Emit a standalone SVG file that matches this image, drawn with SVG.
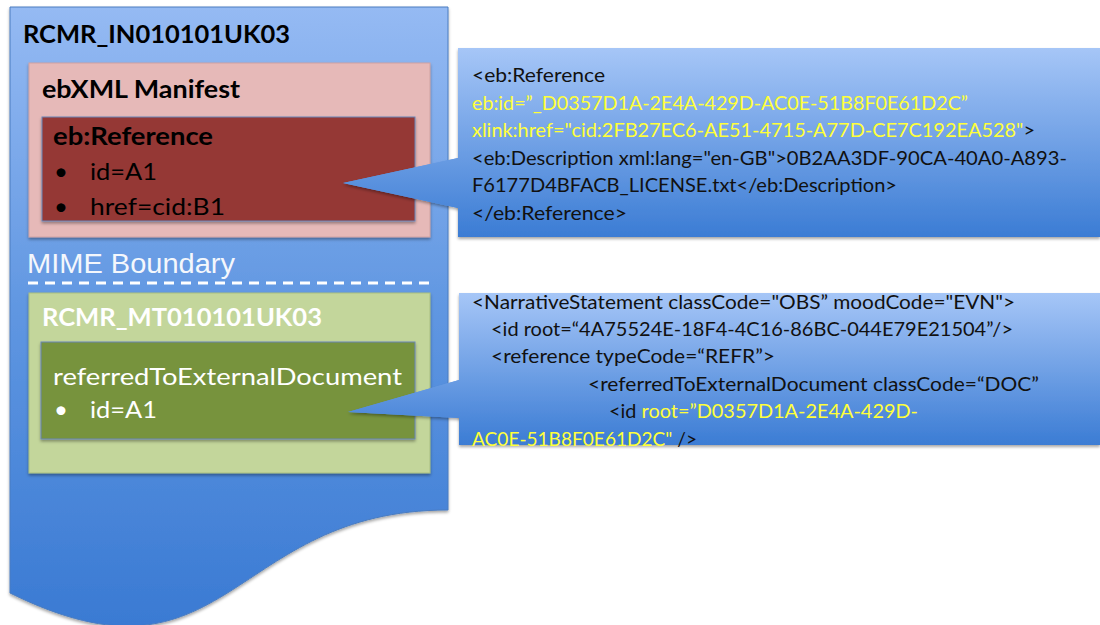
<svg xmlns="http://www.w3.org/2000/svg" width="1100" height="625" viewBox="0 0 1100 625">
  <style>
    .lato { font-family: "Lato", "Open Sans", sans-serif; }
    .b { font-weight: bold; }
    .big { font-size: 24px; }
    .code { font-family: "Lato", "Open Sans", sans-serif; font-size: 19px; fill: #111111; }
    .y { fill: #ffff3a; }
    .blk { fill: #000000; }
    .wht { fill: #ffffff; }
  </style>
  <defs>
    <linearGradient id="gDoc" gradientUnits="userSpaceOnUse" x1="0" y1="7" x2="0" y2="625">
      <stop offset="0" stop-color="#95baf3"/>
      <stop offset="0.5" stop-color="#5f96e1"/>
      <stop offset="1" stop-color="#3a7ad3"/>
    </linearGradient>
    <linearGradient id="gC1" gradientUnits="userSpaceOnUse" x1="0" y1="48" x2="0" y2="237">
      <stop offset="0" stop-color="#a6c6f7"/>
      <stop offset="1" stop-color="#3b7cd4"/>
    </linearGradient>
    <linearGradient id="gC2" gradientUnits="userSpaceOnUse" x1="0" y1="293" x2="0" y2="445">
      <stop offset="0" stop-color="#a6c6f7"/>
      <stop offset="1" stop-color="#3b7cd4"/>
    </linearGradient>
    <filter id="sh" x="-10%" y="-10%" width="120%" height="130%">
      <feDropShadow dx="0" dy="2" stdDeviation="1.8" flood-color="#000" flood-opacity="0.35"/>
    </filter>
  </defs>

  <g id="doc-RCMR_IN010101UK03">
    <path d="M10,7 H448 V510 C229,510 229,701 10,593 Z" fill="url(#gDoc)" stroke="#4a7cc0" stroke-width="1" filter="url(#sh)"/>
    <text class="lato b big blk" x="23" y="43" textLength="267" lengthAdjust="spacingAndGlyphs">RCMR_IN010101UK03</text>
  </g>

  <g id="ebxml-manifest">
    <rect x="29" y="63" width="401" height="174" fill="#e6b9b8" stroke="#d0a2a2" stroke-width="1" filter="url(#sh)"/>
    <text class="lato b big blk" x="42" y="98" textLength="198" lengthAdjust="spacingAndGlyphs">ebXML Manifest</text>
  </g>

  <g id="eb-reference">
    <rect x="42" y="117" width="373" height="104" fill="#953735" stroke="#6a86b8" stroke-width="1" filter="url(#sh)"/>
    <text class="lato b big blk" x="53" y="145" textLength="160" lengthAdjust="spacingAndGlyphs">eb:Reference</text>
    <text class="lato big blk" x="54" y="180">•</text>
    <text class="lato big blk" x="90" y="180" textLength="67" lengthAdjust="spacingAndGlyphs">id=A1</text>
    <text class="lato big blk" x="54" y="215">•</text>
    <text class="lato big blk" x="90" y="215" textLength="135" lengthAdjust="spacingAndGlyphs">href=cid:B1</text>
  </g>

  <g id="mime-boundary">
    <text x="27" y="273" font-family="Liberation Sans, Arial, sans-serif" font-size="28" fill="#f4f7fc" textLength="208" lengthAdjust="spacingAndGlyphs">MIME Boundary</text>
    <line x1="28" y1="283" x2="430" y2="283" stroke="#ffffff" stroke-width="3" stroke-dasharray="10,7"/>
  </g>

  <g id="rcmr-mt010101uk03">
    <rect x="29" y="293" width="401" height="180" fill="#c3d69b" stroke="#a9bf80" stroke-width="1" filter="url(#sh)"/>
    <text class="lato b big wht" x="42" y="326" textLength="280" lengthAdjust="spacingAndGlyphs">RCMR_MT010101UK03</text>
  </g>

  <g id="referred-to-external-document">
    <rect x="41" y="342" width="374" height="97" fill="#77933c" stroke="#6a86b8" stroke-width="1" filter="url(#sh)"/>
    <text class="lato big wht" x="53" y="385" textLength="349" lengthAdjust="spacingAndGlyphs">referredToExternalDocument</text>
    <text class="lato big wht" x="54" y="418">•</text>
    <text class="lato big wht" x="90" y="418" textLength="67" lengthAdjust="spacingAndGlyphs">id=A1</text>
  </g>

  <g id="connectors">
    <path d="M470,158 L458,158 L343,183 L458,208 L470,208 Z" fill="url(#gC1)" filter="url(#sh)"/>
    <path d="M470,380 L459,380 L348,412 L459,418 L470,418 Z" fill="url(#gC2)" filter="url(#sh)"/>
  </g>

  <g id="callout-eb-reference">
    <rect x="458" y="48" width="642" height="189" fill="url(#gC1)" filter="url(#sh)"/>
    <path d="M470,158 L458,158 L343,183 L458,208 L470,208 Z" fill="url(#gC1)"/>
    <text class="code" x="472" y="82" textLength="133" lengthAdjust="spacingAndGlyphs">&lt;eb:Reference</text>
    <text class="code y" x="472" y="110" textLength="496" lengthAdjust="spacingAndGlyphs">eb:id=”_D0357D1A-2E4A-429D-AC0E-51B8F0E61D2C”</text>
    <text class="code" x="472" y="137" textLength="563" lengthAdjust="spacingAndGlyphs"><tspan class="y">xlink:href="cid:2FB27EC6-AE51-4715-A77D-CE7C192EA528"</tspan>&gt;</text>
    <text class="code" x="472" y="165" textLength="595" lengthAdjust="spacingAndGlyphs">&lt;eb:Description xml:lang="en-GB"&gt;0B2AA3DF-90CA-40A0-A893-</text>
    <text class="code" x="472" y="192" textLength="425" lengthAdjust="spacingAndGlyphs">F6177D4BFACB_LICENSE.txt&lt;/eb:Description&gt;</text>
    <text class="code" x="472" y="220" textLength="155" lengthAdjust="spacingAndGlyphs">&lt;/eb:Reference&gt;</text>
  </g>

  <g id="callout-narrative-statement">
    <rect x="459" y="293" width="641" height="152" fill="url(#gC2)" filter="url(#sh)"/>
    <path d="M470,380 L459,380 L348,412 L459,418 L470,418 Z" fill="url(#gC2)"/>
    <text class="code" x="472" y="309" textLength="543" lengthAdjust="spacingAndGlyphs">&lt;NarrativeStatement classCode="OBS” moodCode="EVN"&gt;</text>
    <text class="code" x="491" y="336" textLength="522" lengthAdjust="spacingAndGlyphs">&lt;id root=“4A75524E-18F4-4C16-86BC-044E79E21504”/&gt;</text>
    <text class="code" x="491" y="363" textLength="284" lengthAdjust="spacingAndGlyphs">&lt;reference typeCode=“REFR”&gt;</text>
    <text class="code" x="588" y="391" textLength="451" lengthAdjust="spacingAndGlyphs">&lt;referredToExternalDocument classCode=“DOC”</text>
    <text class="code" x="609" y="418" textLength="309" lengthAdjust="spacingAndGlyphs">&lt;id <tspan class="y">root=”D0357D1A-2E4A-429D-</tspan></text>
    <text class="code" x="472" y="446" textLength="225" lengthAdjust="spacingAndGlyphs"><tspan class="y">AC0E-51B8F0E61D2C"</tspan> /&gt;</text>
  </g>
</svg>
